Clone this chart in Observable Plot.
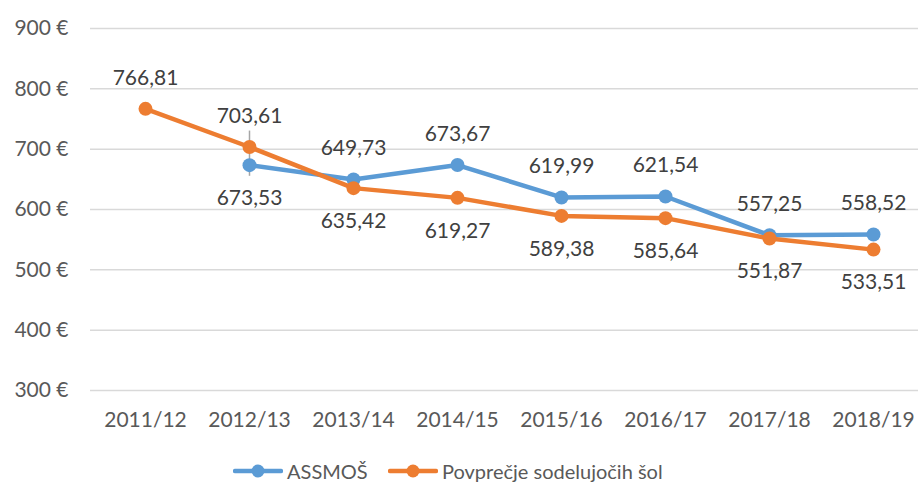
<!DOCTYPE html>
<html>
<head>
<meta charset="utf-8">
<script src="https://cdn.jsdelivr.net/npm/d3@7"></script>
<script src="https://cdn.jsdelivr.net/npm/@observablehq/plot@0.6"></script>
<style>
  body { margin: 0; background: #fff; font-family: Lato, sans-serif; }
  #chart { position: relative; width: 918px; height: 483px; overflow: hidden; }
  #legend { position: absolute; left: 0; top: 448px; width: 918px; height: 35px; }
  .item { position: absolute; top: 11px; display: flex; align-items: center; font-size: 20px; line-height: 24px; color: #595959; }
  .item svg { display: block; margin-right: 4px; }
</style>
</head>
<body>
<div id="chart"><div id="legend"></div></div>
<script>
const years = ["2011/12", "2012/13", "2013/14", "2014/15", "2015/16", "2016/17", "2017/18", "2018/19"];
const assmos = [null, 673.53, 649.73, 673.67, 619.99, 621.54, 557.25, 558.52];
const povprecje = [766.81, 703.61, 635.42, 619.27, 589.38, 585.64, 551.87, 533.51];
const yTicks = [300, 400, 500, 600, 700, 800, 900];
const seriesNames = ["ASSMOŠ", "Povprečje sodelujočih šol"];
const seriesColors = ["#5B9BD5", "#ED7D31"];
// small grey high-low stub visible at 2012/13
const hiLo = [{year: "2012/13", low: 655, high: 730}];

const rows = [];
[assmos, povprecje].forEach((arr, si) => {
  arr.forEach((v, i) => {
    if (v == null) return;
    const other = (si === 0 ? povprecje : assmos)[i];
    rows.push({
      series: seriesNames[si],
      year: years[i],
      value: v,
      above: other == null || v >= other
    });
  });
});
const fmt = v => v.toFixed(2).replace(".", ",");

const plot = Plot.plot({
  width: 918,
  height: 448,
  marginLeft: 90,
  marginRight: 0,
  marginTop: 28,
  marginBottom: 58,
  style: { fontFamily: "Lato, sans-serif", fontSize: "21px", color: "#595959", background: "#fff" },
  x: { type: "point", domain: years, range: [143, 874.5], padding: 0, label: null },
  y: { domain: [300, 900], label: null },
  color: { domain: seriesNames, range: seriesColors },
  marks: [
    Plot.gridY(yTicks, { stroke: "#D9D9D9", strokeOpacity: 1, strokeWidth: 1.5 }),
    Plot.axisY(yTicks, { tickSize: 0, tickPadding: 22, tickFormat: d => `${d} €`, fill: "#595959", fontSize: 21 }),
    Plot.axisX(years, { tickSize: 0, tickPadding: 22, fill: "#595959", fontSize: 21 }),
    Plot.ruleX(hiLo, { x: "year", y1: "low", y2: "high", stroke: "#A6A6A6", strokeWidth: 1.5 }),
    ...seriesNames.map(name => [
      Plot.line(rows.filter(r => r.series === name), { x: "year", y: "value", stroke: "series", strokeWidth: 4.5, strokeLinejoin: "round" }),
      Plot.dot(rows.filter(r => r.series === name), { x: "year", y: "value", fill: "series", r: 7 })
    ]).flat(),
    Plot.text(rows.filter(r => r.above), { x: "year", y: "value", text: d => fmt(d.value), dy: -31, fill: "#404040", fontSize: 21 }),
    Plot.text(rows.filter(r => !r.above), { x: "year", y: "value", text: d => fmt(d.value), dy: 33, fill: "#404040", fontSize: 21 })
  ]
});
document.getElementById("chart").prepend(plot);

const legend = document.getElementById("legend");
const lefts = [233, 388];
seriesNames.forEach((name, i) => {
  const item = document.createElement("div");
  item.className = "item";
  item.style.left = lefts[i] + "px";
  item.innerHTML = `<svg width="50" height="16"><line x1="2" x2="48" y1="8" y2="8" stroke="${seriesColors[i]}" stroke-width="4.5" stroke-linecap="round"/><circle cx="25" cy="8" r="6.5" fill="${seriesColors[i]}"/></svg><span>${name}</span>`;
  legend.appendChild(item);
});
</script>
</body>
</html>
